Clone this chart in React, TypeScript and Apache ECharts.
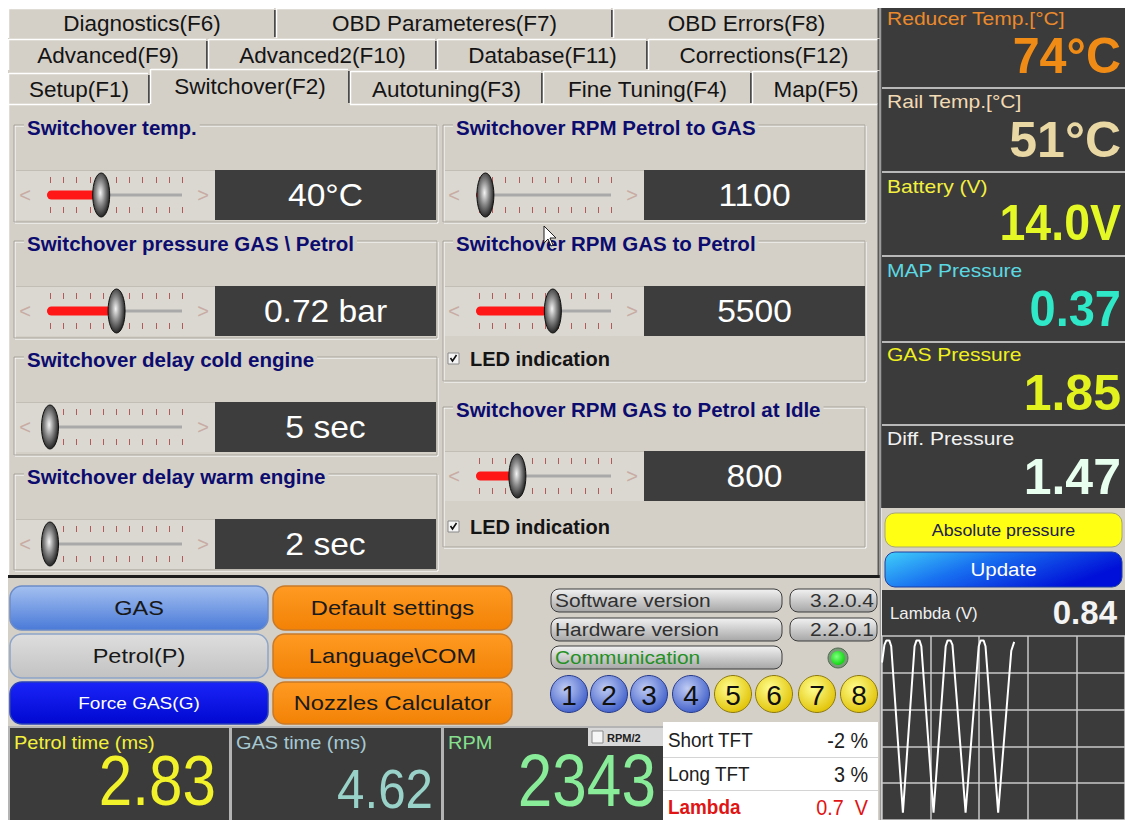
import React, { useEffect, useRef } from "react";
import * as echarts from "echarts";

// ---------------- data ----------------
const tabRow1 = ["Diagnostics(F6)", "OBD Parameteres(F7)", "OBD Errors(F8)"];
const tabRow2 = ["Advanced(F9)", "Advanced2(F10)", "Database(F11)", "Corrections(F12)"];
const tabRow3 = ["Setup(F1)", "Switchover(F2)", "Autotuning(F3)", "Fine Tuning(F4)", "Map(F5)"];
const activeTab = "Switchover(F2)";

const sensorLabels = ["Reducer Temp.[°C]", "Rail Temp.[°C]", "Battery (V)", "MAP Pressure", "GAS Pressure", "Diff. Pressure"];
const sensorValues = ["74°C", "51°C", "14.0V", "0.37", "1.85", "1.47"];

const leftTitles = ["Switchover temp.", "Switchover pressure GAS \\ Petrol", "Switchover delay cold engine", "Switchover delay warm engine"];
const leftValues = [40, 0.72, 5, 2];
const leftTexts = ["40°C", "0.72 bar", "5 sec", "2 sec"];
const leftMin = [20, 0.2, 5, 2];
const leftMax = [70, 1.2, 60, 60];

const rightTitles = ["Switchover RPM Petrol to GAS", "Switchover RPM GAS to Petrol", "Switchover RPM GAS to Petrol at Idle"];
const rightValues = [1100, 5500, 800];
const rightTexts = ["1100", "5500", "800"];
const rightMin = [1000, 1000, 500];
const rightMax = [3000, 8800, 1500];
const ledIndication = [false, true, true];
const ledLabel = "LED indication";

const modeButtons = ["GAS", "Petrol(P)", "Force GAS(G)"];
const menuButtons = ["Default settings", "Language\\COM", "Nozzles Calculator"];
const infoLabels = ["Software version", "Hardware version", "Communication"];
const infoValues = ["3.2.0.4", "2.2.0.1"];
const cylinderNames = ["1", "2", "3", "4", "5", "6", "7", "8"];
const cylinderBank = [1, 1, 1, 1, 2, 2, 2, 2];
const sideButtons = ["Absolute pressure", "Update"];

const injLabels = ["Petrol time (ms)", "GAS time (ms)", "RPM"];
const injValues = ["2.83", "4.62", "2343"];
const rpmHalf = "RPM/2";
const tftLabels = ["Short TFT", "Long TFT", "Lambda"];
const tftValues = ["-2 %", "3 %", "0.7  V"];

const lambdaLabel = "Lambda (V)";
const lambdaNow = "0.84";
const lambdaTime = [0.0, 0.05, 0.09, 0.15, 0.19, 0.43, 0.67, 0.71, 0.77, 0.81, 1.06, 1.31, 1.35, 1.41, 1.45, 1.72, 1.99, 2.03, 2.09, 2.13, 2.39, 2.66, 2.72];
const lambdaVolts = [0.82, 0.94, 0.97, 0.97, 0.93, -0.2, 0.93, 0.97, 0.97, 0.93, -0.2, 0.93, 0.97, 0.97, 0.94, -0.2, 0.93, 0.97, 0.97, 0.93, -0.2, 0.9, 0.96];

// ---------------- style ----------------
const FF = "'Liberation Sans', Arial, Helvetica, sans-serif";
const BG = "#d4d0c8";
const DARK = "#3b3b3b";

function buildGraphic(): any[] {
  const els: any[] = [];
  const R = (x: number, y: number, w: number, h: number, fill: any, o: any = {}) =>
    els.push({
      type: "rect",
      silent: true,
      shape: { x, y, width: w, height: h, r: o.r ?? 0 },
      style: { fill, stroke: o.stroke ?? "none", lineWidth: o.lw ?? 0 },
    });
  const L = (x1: number, y1: number, x2: number, y2: number, stroke: string, lw = 1) =>
    els.push({ type: "line", silent: true, shape: { x1, y1, x2, y2 }, style: { stroke, lineWidth: lw } });
  const T = (x: number, y: number, text: string, size: number, fill: string, o: any = {}) =>
    els.push({
      type: "text",
      silent: true,
      x,
      y,
      scaleX: o.sx ?? 1,
      style: {
        text,
        fill,
        fontSize: size,
        fontFamily: o.ff ?? FF,
        fontWeight: o.fw ?? "normal",
        align: o.al ?? "left",
        verticalAlign: "middle",
        textAlign: o.al ?? "left",
        textVerticalAlign: "middle",
        backgroundColor: o.bg,
        padding: o.bg ? [0, 3] : 0,
      },
    });
  const vgrad = (a: string, b: string) =>
    new echarts.graphic.LinearGradient(0, 0, 0, 1, [
      { offset: 0, color: a },
      { offset: 1, color: b },
    ]);

  // app background (page margin stays white)
  R(8, 8, 872, 812, BG);

  // ---------- tabs ----------
  const rows = [
    { labels: tabRow1, bounds: [8, 276, 613, 880], top: 8, bottom: 38, ty: 23 },
    { labels: tabRow2, bounds: [8, 208, 437, 648, 880], top: 39, bottom: 70, ty: 55 },
    { labels: tabRow3, bounds: [8, 150, 350, 543, 752, 880], top: 71, bottom: 104, ty: 89 },
  ];
  rows.forEach((row) => {
    row.labels.forEach((lab, i) => {
      const x0 = row.bounds[i];
      const x1 = row.bounds[i + 1];
      const active = lab === activeTab;
      const top = active ? row.top - 2 : lab === "Setup(F1)" ? row.top + 2 : row.top;
      L(x0 + 1, top + 0.5, x1 - 2, top + 0.5, "#ffffff", 1.5);
      L(x0 + 0.5, top, x0 + 0.5, row.bottom, "#ffffff", 1.5);
      if (i < row.labels.length - 1 || active) {
        L(x1 - 1, top + 2, x1 - 1, row.bottom - 1, "#4a4a4a", 2);
      }
      T((x0 + x1) / 2, active ? row.ty - 3 : row.ty, lab, 22.5, "#141414", { al: "center" });
    });
    L(878.5, row.top, 878.5, row.bottom, "#5a5a5a", 2);
  });
  // panel frame
  L(8, 104.5, 150, 104.5, "#ffffff", 1.5);
  L(350, 104.5, 878, 104.5, "#ffffff", 1.5);
  L(8.5, 104, 8.5, 575, "#ffffff", 1.5);
  L(878.5, 104, 878.5, 578, "#5a5a5a", 2);
  R(8, 575, 872, 3, "#1c1c1c");

  // ---------- group boxes & sliders ----------
  const groupBox = (x: number, y: number, w: number, h: number, title: string) => {
    R(x + 1, y + 1, w, h, "none", { stroke: "#ffffff", lw: 1 });
    R(x, y, w, h, "none", { stroke: "#a8a49c", lw: 1 });
    T(x + 10, y + 2, title, 20.5, "#0c0c6e", { fw: "bold", bg: BG });
  };
  const slider = (x0: number, yTop: number, frac: number, text: string) => {
    const cy = yTop + 25;
    R(x0 + 2, yTop, 199, 50, "#dbd8d1");
    L(x0 + 2, yTop + 0.5, x0 + 201, yTop + 0.5, "#c2beb6", 1);
    T(x0 + 11, cy, "<", 20, "#c8aca4", { al: "center" });
    T(x0 + 189, cy, ">", 20, "#c8aca4", { al: "center" });
    for (let k = 0; k < 11; k++) {
      const tx = Math.round(x0 + 36 + k * 13.2) + 0.5;
      L(tx, cy - 18, tx, cy - 12, "#b25a5a", 1);
      L(tx, cy + 12, tx, cy + 18, "#b25a5a", 1);
    }
    const thumb = x0 + 36 + frac * 128;
    R(x0 + 33, cy - 1.5, 135, 3, "#a9a9a9");
    if (thumb > x0 + 38) R(x0 + 33, cy - 4.5, thumb - x0 - 33, 9, "#ff1616", { r: 4.5 });
    else R(x0 + 33, cy - 3.5, 6, 7, "#e01010", { r: 3 });
    els.push({
      type: "ellipse",
      silent: true,
      shape: { cx: thumb, cy, rx: 8.5, ry: 22 },
      style: {
        fill: new echarts.graphic.RadialGradient(0.45, 0.45, 0.6, [
          { offset: 0, color: "#f4f4f4" },
          { offset: 0.45, color: "#8a8a8a" },
          { offset: 1, color: "#141414" },
        ]),
        stroke: "#101010",
        lineWidth: 1,
      },
    });
    R(x0 + 201, yTop, 221, 50, "#3d3d3d");
    T(x0 + 311.5, cy, text, 32, "#ffffff", { al: "center", sx: 1.05 });
  };
  const ledBox = (x: number, y: number) => {
    R(x, y - 6, 11, 11, "#f4f4f4", { stroke: "#8a8a8a", lw: 1 });
    els.push({
      type: "polyline",
      silent: true,
      shape: { points: [[x + 2.5, y - 1], [x + 4.5, y + 2], [x + 8.5, y - 4]] },
      style: { stroke: "#101010", lineWidth: 1.6, fill: "none" },
    });
    T(x + 22, y, ledLabel, 20, "#141414", { fw: "bold" });
  };

  const leftBoxTops = [125, 241, 357, 474];
  const leftBoxH = [97, 97, 98, 96];
  leftTitles.forEach((t, i) => {
    groupBox(14, leftBoxTops[i], 423, leftBoxH[i], t);
    const frac = (leftValues[i] - leftMin[i]) / (leftMax[i] - leftMin[i]);
    slider(14, leftBoxTops[i] + 45, frac, leftTexts[i]);
  });
  const rightBoxTops = [125, 241, 407];
  const rightBoxH = [97, 140, 140];
  rightTitles.forEach((t, i) => {
    groupBox(443, rightBoxTops[i], 422, rightBoxH[i], t);
    const frac = (rightValues[i] - rightMin[i]) / (rightMax[i] - rightMin[i]);
    slider(443, rightBoxTops[i] + (i === 2 ? 44 : 45), frac, rightTexts[i]);
    if (ledIndication[i]) ledBox(448, rightBoxTops[i] + (i === 2 ? 120 : 118));
  });

  // mouse cursor
  els.push({
    type: "polygon",
    silent: true,
    shape: { points: [[544, 226], [544, 243], [548, 239], [551, 246], [553, 245], [550, 238], [556, 238]] },
    style: { fill: "#ffffff", stroke: "#202020", lineWidth: 1 },
  });

  // ---------- right sensor panel ----------
  R(880, 8, 245, 500, DARK);
  L(880.5, 8, 880.5, 820, "#9a9a9a", 1.5);
  const secTops = [8, 88, 172, 256, 342, 425];
  const labelColors = ["#ea8a2c", "#f2dab4", "#f4f040", "#5cd8e2", "#f0f020", "#f2f2f2"];
  const valueColors = ["#f08c16", "#ead8a4", "#e4f826", "#2ee8c8", "#e2f21e", "#e8fff0"];
  const labelDy = [11, 14, 15, 15, 13, 14];
  const valueDy = [47, 52, 50, 52, 51, 52];
  const valueSx = [0.97, 1, 0.93, 0.94, 1, 1];
  sensorLabels.forEach((lab, i) => {
    if (i > 0) L(882, secTops[i], 1125, secTops[i], "#b8b8b8", 2);
    T(887, secTops[i] + labelDy[i], lab, 18, labelColors[i], { sx: 1.17 });
    T(1121, secTops[i] + valueDy[i], sensorValues[i], 50, valueColors[i], { al: "right", fw: "bold", sx: valueSx[i] });
  });
  R(882, 508, 243, 82, BG);
  R(885, 513, 237, 34, "#ffff14", { r: 10, stroke: "#a8a870", lw: 1 });
  T(1003.5, 530, sideButtons[0], 16.5, "#20204a", { al: "center", sx: 1.08 });
  R(885, 552, 237, 35, new echarts.graphic.LinearGradient(0, 0, 1, 0.4, [
    { offset: 0, color: "#40d0fa" },
    { offset: 0.45, color: "#1870f0" },
    { offset: 1, color: "#0010d8" },
  ]), { r: 10, stroke: "#2040a0", lw: 1 });
  T(1003.5, 569.5, sideButtons[1], 19, "#ffffff", { al: "center", sx: 1.08 });

  // lambda header
  R(882, 590, 243, 46, DARK);
  T(890, 613, lambdaLabel, 16, "#f0f0f0", { sx: 1.05 });
  T(1117, 612, lambdaNow, 33, "#f4f4f4", { al: "right", fw: "bold" });

  // ---------- bottom buttons ----------
  const rowY = [586, 634, 682];
  const rowH = [44, 44, 42];
  const modeFills = [
    vgrad("#a4c0f0", "#4a7ad8"),
    vgrad("#dedede", "#c2c2c2"),
    vgrad("#1a24f8", "#0008d0"),
  ];
  const modeStroke = ["#6c8cc8", "#8ca4c8", "#2840b8"];
  const modeText = ["#181818", "#181818", "#ffffff"];
  modeButtons.forEach((b, i) => {
    R(10, rowY[i], 258, rowH[i], modeFills[i], { r: 12, stroke: modeStroke[i], lw: 1.5 });
    T(139, rowY[i] + rowH[i] / 2, b, i === 2 ? 17 : 21, modeText[i], { al: "center", sx: 1.12 });
  });
  menuButtons.forEach((b, i) => {
    R(273, rowY[i], 239, rowH[i], vgrad("#ff9a22", "#f28206"), { r: 12, stroke: "#c87a2a", lw: 1.5 });
    T(392.5, rowY[i] + rowH[i] / 2, b, 21, "#1a1a1a", { al: "center", sx: 1.13 });
  });

  // version / comm pills
  const pillY = [589, 618, 646];
  infoLabels.forEach((lab, i) => {
    R(551, pillY[i], 231, 23, vgrad("#f2f2f2", "#a6a6a6"), { r: 8, stroke: "#3c3c3c", lw: 1 });
    T(555, pillY[i] + 11.5, lab, 19, i === 2 ? "#249024" : "#303030", { sx: 1.1 });
    if (i < 2) {
      R(790, pillY[i], 87, 23, vgrad("#f2f2f2", "#a6a6a6"), { r: 8, stroke: "#3c3c3c", lw: 1 });
      T(874, pillY[i] + 11.5, infoValues[i], 19, "#303030", { al: "right", sx: 1.1 });
    }
  });
  els.push({ type: "circle", silent: true, shape: { cx: 838, cy: 658, r: 10 }, style: { fill: "#7a9a7a", stroke: "#506850", lineWidth: 1 } });
  els.push({
    type: "circle",
    silent: true,
    shape: { cx: 838, cy: 658, r: 7 },
    style: {
      fill: new echarts.graphic.RadialGradient(0.4, 0.4, 0.6, [
        { offset: 0, color: "#80ff80" },
        { offset: 1, color: "#10d810" },
      ]),
    },
  });

  // cylinders
  const cylX = [569, 609, 649, 691, 733, 774, 817, 859];
  cylinderNames.forEach((n, i) => {
    const blue = cylinderBank[i] === 1;
    els.push({
      type: "circle",
      silent: true,
      shape: { cx: cylX[i], cy: 694, r: 18.5 },
      style: {
        fill: new echarts.graphic.RadialGradient(0.4, 0.35, 0.7, blue
          ? [{ offset: 0, color: "#c0ccf4" }, { offset: 1, color: "#3c5cc8" }]
          : [{ offset: 0, color: "#ffff90" }, { offset: 1, color: "#e0c000" }]),
        stroke: blue ? "#283c8c" : "#8c7a10",
        lineWidth: 1,
      },
    });
    T(cylX[i], 695, n, 28, "#101010", { al: "center" });
  });

  // ---------- bottom readouts ----------
  const panX = [10, 232, 444];
  const panW = [219, 209, 219];
  R(8, 726, 655, 94, "#b4b4b4");
  panX.forEach((x, i) => R(x, 728, panW[i], 92, DARK));
  const injLabelColors = ["#f2f03c", "#a6c8d2", "#86e08e"];
  const injValueColors = ["#f2f22a", "#98d2c8", "#88ec98"];
  injLabels.forEach((lab, i) => T(panX[i] + 4, 742, lab, 19, injLabelColors[i], { sx: 1.05 }));
  T(216, 781, injValues[0], 70, injValueColors[0], { al: "right", sx: 0.86 });
  T(433, 788, injValues[1], 56, injValueColors[1], { al: "right", sx: 0.88 });
  T(656, 780, injValues[2], 74, injValueColors[2], { al: "right", sx: 0.84 });
  R(588, 728, 75, 18, "#d8d8d8");
  R(592, 731, 11, 12, "#f6f6f6", { stroke: "#8a8a8a", lw: 1 });
  T(607, 737.5, rpmHalf, 11, "#202020", { fw: "bold" });

  R(663, 722, 215, 98, "#ffffff");
  L(663, 757.5, 878, 757.5, "#d4d4d4", 1);
  L(663, 790.5, 878, 790.5, "#d4d4d4", 1);
  const tftY = [740, 774, 807];
  tftLabels.forEach((lab, i) => {
    const red = i === 2;
    T(668, tftY[i], lab, 21, red ? "#e01414" : "#202020", { sx: 0.9, fw: red ? "bold" : "normal" });
    T(868, tftY[i], tftValues[i], 22, red ? "#e01414" : "#202020", { al: "right", sx: 0.9 });
  });

  return els;
}

function buildOption(): any {
  return {
    animation: false,
    graphic: { elements: buildGraphic() },
    grid: {
      left: 882,
      top: 636,
      width: 250,
      height: 235,
      show: true,
      backgroundColor: DARK,
      borderWidth: 0,
    },
    xAxis: {
      type: "value",
      min: 0,
      max: 5,
      interval: 1,
      axisLine: { show: false },
      axisTick: { show: false },
      axisLabel: { show: false },
      splitLine: { show: true, lineStyle: { color: "#c8c8c8", width: 1.5 } },
    },
    yAxis: {
      type: "value",
      min: -0.25,
      max: 1,
      interval: 0.25,
      axisLine: { show: false },
      axisTick: { show: false },
      axisLabel: { show: false },
      splitLine: { show: true, lineStyle: { color: "#c8c8c8", width: 1.5 } },
    },
    series: [
      {
        type: "line",
        data: lambdaTime.map((t, i) => [t, lambdaVolts[i]]),
        showSymbol: false,
        lineStyle: { color: "#ffffff", width: 2 },
        clip: true,
        z: 5,
      },
    ],
  };
}

export default function App() {
  const ref = useRef<HTMLDivElement>(null);
  useEffect(() => {
    const chart = echarts.init(ref.current as HTMLDivElement, null, { renderer: "svg" });
    chart.setOption(buildOption());
    return () => chart.dispose();
  }, []);
  return (
    <div
      ref={ref}
      style={{ position: "fixed", left: 0, top: 0, width: 1125, height: 820, background: "#ffffff" }}
    />
  );
}
